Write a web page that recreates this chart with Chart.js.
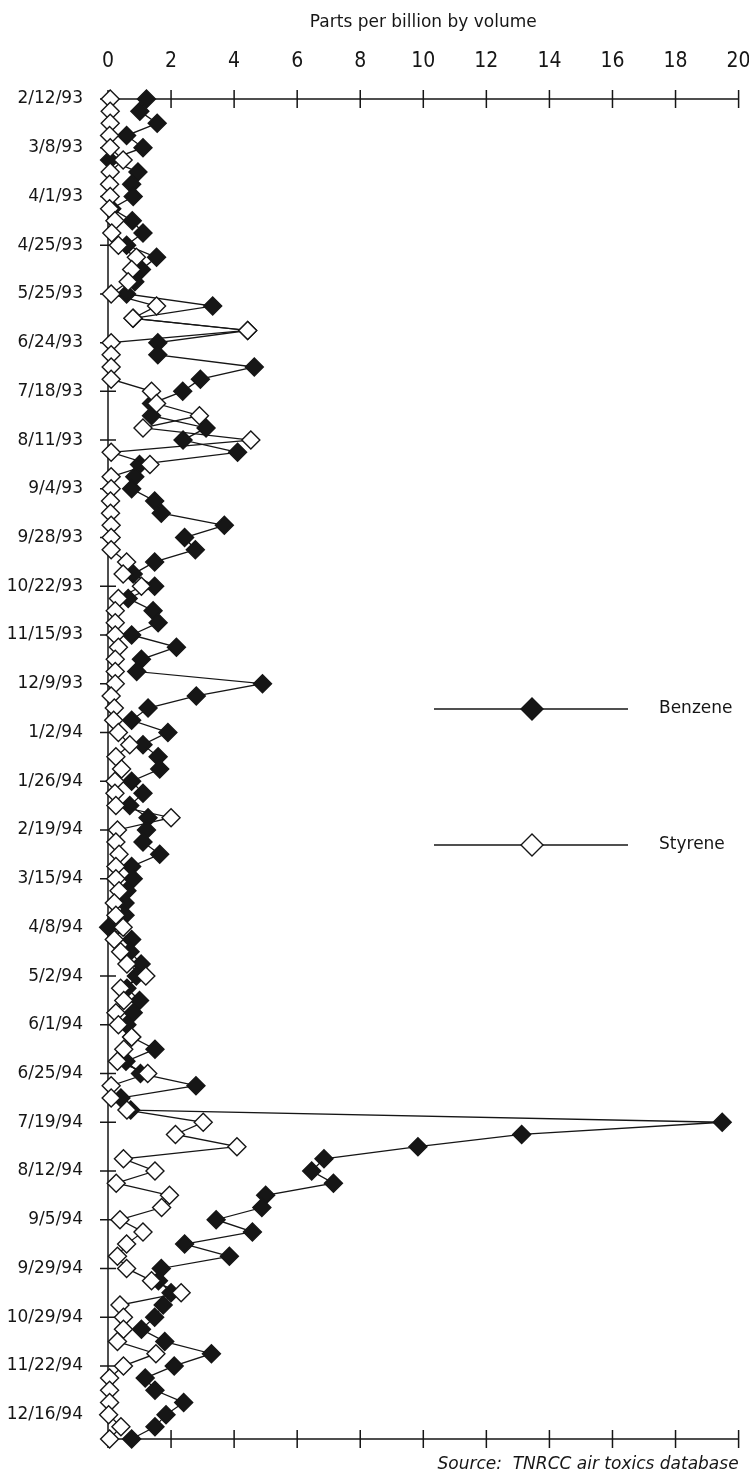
<!DOCTYPE html>
<html>
<head>
<meta charset="utf-8">
<title>Benzene and Styrene</title>
<script src="https://cdn.jsdelivr.net/npm/chart.js@4/dist/chart.umd.min.js"></script>
<style>
  html, body { margin: 0; padding: 0; background: #fff; }
  canvas { display: block; }
</style>
</head>
<body>
<canvas id="chart" width="749" height="1476"></canvas>
<script>
// Sampling dates printed on the time axis (one label every fourth sample)
const tickDates = [
  '2/12/93', '3/8/93', '4/1/93', '4/25/93', '5/25/93', '6/24/93', '7/18/93',
  '8/11/93', '9/4/93', '9/28/93', '10/22/93', '11/15/93', '12/9/93', '1/2/94',
  '1/26/94', '2/19/94', '3/15/94', '4/8/94', '5/2/94', '6/1/94', '6/25/94',
  '7/19/94', '8/12/94', '9/5/94', '9/29/94', '10/29/94', '11/22/94', '12/16/94'
];
const samplesPerLabel = 4;

// Concentrations, parts per billion by volume, one value per sample
const benzene = [
  1.22, 1.01, 1.56, 0.59, 1.11, 0.05, 0.95, 0.75, 0.80, 0.12,
  0.77, 1.11, 0.59, 1.54, 1.06, 0.85, 0.59, 3.32, 0.80, 4.43,
  1.58, 1.58, 4.64, 2.93, 2.37, 1.38, 1.38, 3.11, 2.38, 4.11,
  1.00, 0.85, 0.75, 1.48, 1.69, 3.69, 2.43, 2.77, 1.48, 0.80,
  1.48, 0.64, 1.43, 1.59, 0.75, 2.17, 1.06, 0.91, 4.90, 2.80,
  1.27, 0.75, 1.90, 1.11, 1.59, 1.64, 0.75, 1.11, 0.69, 1.27,
  1.22, 1.11, 1.64, 0.75, 0.80, 0.60, 0.54, 0.54, 0.02, 0.75,
  0.70, 1.05, 0.90, 0.60, 1.00, 0.80, 0.60, 0.75, 1.49, 0.57,
  1.03, 2.79, 0.41, 0.72, 19.48, 13.12, 9.83, 6.85, 6.46, 7.15,
  5.00, 4.88, 3.43, 4.58, 2.43, 3.85, 1.69, 1.60, 2.00, 1.75,
  1.48, 1.06, 1.80, 3.28, 2.10, 1.18, 1.49, 2.40, 1.84, 1.49,
  0.75
];
const styrene = [
  0.07, 0.07, 0.07, 0.05, 0.07, 0.48, 0.07, 0.05, 0.07, 0.05,
  0.22, 0.12, 0.33, 0.90, 0.75, 0.64, 0.10, 1.54, 0.79, 4.43,
  0.10, 0.10, 0.10, 0.10, 1.38, 1.54, 2.90, 1.11, 4.53, 0.10,
  1.33, 0.10, 0.10, 0.08, 0.08, 0.10, 0.10, 0.10, 0.59, 0.48,
  1.06, 0.33, 0.23, 0.23, 0.23, 0.33, 0.23, 0.23, 0.23, 0.10,
  0.20, 0.18, 0.33, 0.69, 0.25, 0.43, 0.22, 0.22, 0.25, 2.00,
  0.30, 0.25, 0.35, 0.25, 0.25, 0.35, 0.20, 0.25, 0.48, 0.20,
  0.40, 0.60, 1.20, 0.40, 0.50, 0.25, 0.33, 0.75, 0.50, 0.30,
  1.26, 0.10, 0.10, 0.60, 3.02, 2.14, 4.09, 0.49, 1.49, 0.26,
  1.95, 1.70, 0.38, 1.11, 0.59, 0.30, 0.59, 1.38, 2.32, 0.38,
  0.49, 0.49, 0.30, 1.52, 0.49, 0.05, 0.05, 0.05, 0.02, 0.41,
  0.05
];

// Value axis range
const valueMin = 0;
const valueMax = 20;
const valueStep = 2;

// One category per sample; only every fourth carries a date
const categories = benzene.map((_, i) =>
  i % samplesPerLabel === 0 ? (tickDates[i / samplesPerLabel] || '') : '');

const INK = '#161616';
const FAMILY = "'DejaVu Sans', sans-serif";
const NARROW = "'Liberation Sans Narrow', 'DejaVu Sans Condensed', 'Liberation Sans', sans-serif";

// Axis lines with tick marks that cross the line, top, bottom and left
const crossAxes = {
  id: 'crossAxes',
  beforeDatasetsDraw(chart) {
    const { ctx, scales: { x, y } } = chart;
    const x0 = x.getPixelForValue(valueMin);
    const x1 = x.getPixelForValue(valueMax);
    const yTop = y.getPixelForValue(0);
    const yBot = y.getPixelForValue(categories.length - 1);
    ctx.save();
    ctx.strokeStyle = INK;
    ctx.lineWidth = 1.5;
    ctx.beginPath();
    ctx.moveTo(x0, yTop); ctx.lineTo(x0, yBot);
    ctx.moveTo(x0 - 8, yTop); ctx.lineTo(x1, yTop);
    ctx.moveTo(x0, yBot); ctx.lineTo(x1, yBot);
    for (let v = valueMin; v <= valueMax; v += valueStep) {
      const px = x.getPixelForValue(v);
      ctx.moveTo(px, yTop - 9); ctx.lineTo(px, yTop + 9);
      ctx.moveTo(px, yBot - 9); ctx.lineTo(px, yBot + 9);
    }
    categories.forEach((c, i) => {
      if (!c) return;
      const py = y.getPixelForValue(i);
      ctx.moveTo(x0 - 8, py); ctx.lineTo(x0 + 8, py);
    });
    ctx.stroke();
    ctx.restore();
  }
};

// Key drawn inside the plot: long line sample with the marker in the middle
const sideLegend = {
  id: 'sideLegend',
  afterDraw(chart, args, opts) {
    const { ctx } = chart;
    chart.data.datasets.forEach((ds, k) => {
      const yy = opts.rows[k];
      ctx.save();
      ctx.strokeStyle = ds.borderColor;
      ctx.lineWidth = ds.borderWidth;
      ctx.beginPath();
      ctx.moveTo(opts.x0, yy);
      ctx.lineTo(opts.x1, yy);
      ctx.stroke();
      const r = opts.radius;
      ctx.beginPath();
      ctx.moveTo(opts.xm, yy - r);
      ctx.lineTo(opts.xm + r, yy);
      ctx.lineTo(opts.xm, yy + r);
      ctx.lineTo(opts.xm - r, yy);
      ctx.closePath();
      ctx.fillStyle = ds.pointBackgroundColor;
      ctx.fill();
      ctx.lineWidth = ds.pointBorderWidth;
      ctx.strokeStyle = ds.pointBorderColor;
      ctx.stroke();
      ctx.fillStyle = INK;
      ctx.font = '17px ' + FAMILY;
      ctx.textAlign = 'left';
      ctx.textBaseline = 'middle';
      ctx.fillText(ds.label, opts.tx, yy);
      ctx.restore();
    });
  }
};

// Source note under the bottom axis
const sourceNote = {
  id: 'sourceNote',
  afterDraw(chart, args, opts) {
    const { ctx, chartArea } = chart;
    ctx.save();
    ctx.fillStyle = INK;
    ctx.font = 'italic 17px ' + FAMILY;
    ctx.textAlign = 'right';
    ctx.textBaseline = 'middle';
    ctx.fillText(opts.text, chartArea.right, chartArea.bottom + opts.offset);
    ctx.restore();
  }
};

const seriesStyle = (fill) => ({
  borderColor: INK,
  borderWidth: 1.3,
  pointStyle: 'rectRot',
  pointRadius: 9,
  pointHoverRadius: 9,
  pointBackgroundColor: fill,
  pointBorderColor: INK,
  pointBorderWidth: 1.4,
  fill: false,
  tension: 0,
  clip: false
});

new Chart(document.getElementById('chart'), {
  type: 'line',
  data: {
    labels: categories,
    datasets: [
      Object.assign({ label: 'Benzene', data: benzene, order: 1 }, seriesStyle(INK)),
      Object.assign({ label: 'Styrene', data: styrene, order: 0 }, seriesStyle('#ffffff'))
    ]
  },
  options: {
    indexAxis: 'y',
    responsive: false,
    animation: false,
    events: [],
    layout: { padding: { top: 0, right: 8, bottom: 37, left: 0 } },
    scales: {
      x: {
        type: 'linear',
        position: 'top',
        min: valueMin,
        max: valueMax,
        ticks: {
          stepSize: valueStep,
          color: INK,
          font: { family: NARROW, size: 21 },
          padding: 25,
          maxRotation: 0
        },
        grid: { display: false, drawTicks: false, tickLength: 0 },
        border: { display: false },
        title: {
          display: true,
          text: 'Parts per billion by volume',
          color: INK,
          font: { family: FAMILY, size: 17 },
          padding: { top: 12, bottom: 0 }
        },
        afterFit(scale) {
          scale.height = 99;
          scale.paddingLeft = 0;
          scale.paddingRight = 0;
        }
      },
      y: {
        type: 'category',
        offset: false,
        ticks: {
          autoSkip: false,
          color: INK,
          font: { family: FAMILY, size: 17 },
          padding: 25,
          callback: (value, index) => categories[index]
        },
        grid: { display: false, drawTicks: false, tickLength: 0 },
        border: { display: false },
        afterFit(scale) {
          scale.width = 108;
          scale.paddingTop = 0;
          scale.paddingBottom = 0;
        }
      }
    },
    plugins: {
      legend: { display: false },
      tooltip: { enabled: false },
      sideLegend: { rows: [709, 845], x0: 434, x1: 628, xm: 532, tx: 659, radius: 11 },
      sourceNote: { text: 'Source:  TNRCC air toxics database', offset: 26 }
    }
  },
  plugins: [crossAxes, sideLegend, sourceNote]
});
</script>
</body>
</html>
